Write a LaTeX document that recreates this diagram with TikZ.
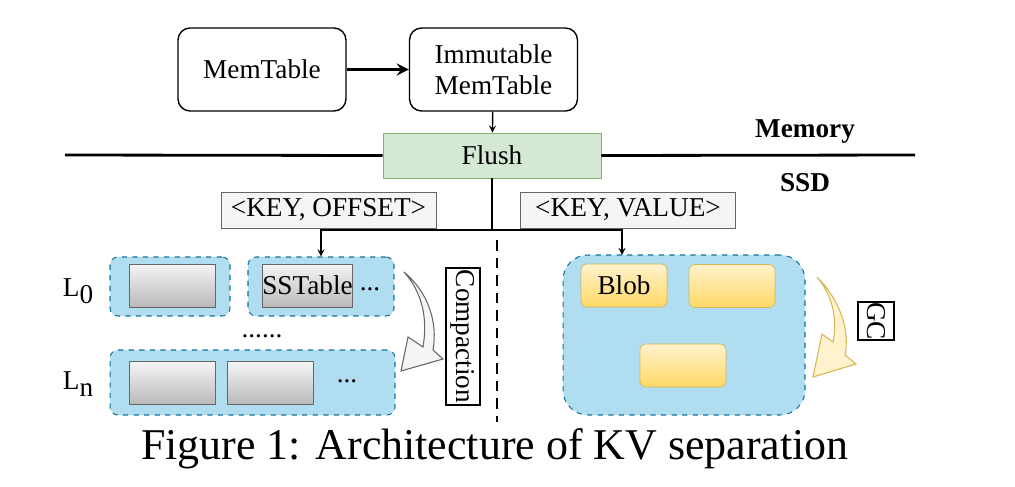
\documentclass[tikz,border=0pt]{standalone}
\usepackage{fontspec}
\setmainfont{Liberation Serif}
\definecolor{lvlfill}{HTML}{B1DDF0}
\definecolor{lvldraw}{HTML}{10739E}
\definecolor{flushfill}{HTML}{D5E8D4}
\definecolor{flushdraw}{HTML}{82B366}
\definecolor{tagfill}{HTML}{F5F5F5}
\definecolor{tagdraw}{HTML}{666666}
\definecolor{blobtop}{HTML}{FFF2CC}
\definecolor{blobbot}{HTML}{FFD966}
\definecolor{blobdraw}{HTML}{D6B656}
\begin{document}
\begin{tikzpicture}[
    x=0.02cm, y=-0.02cm,
    font=\fontsize{15.5}{18}\selectfont,
    memtab/.style={draw, line width=0.8pt, rounded corners=0.24cm, minimum width=3.36cm, minimum height=1.66cm, align=center},
    flushbox/.style={draw=flushdraw, fill=flushfill, minimum width=4.36cm, minimum height=0.9cm},
    tagbox/.style={draw=tagdraw, fill=tagfill, minimum width=4.3cm, minimum height=0.72cm, inner sep=0pt},
    level/.style={draw=lvldraw, fill=lvlfill, dashed, line width=0.6pt, rounded corners=0.16cm, minimum height=1.18cm},
    sst/.style={draw=tagdraw, top color=tagfill, bottom color=gray!55, minimum width=1.72cm, minimum height=0.86cm, inner sep=0pt},
    blob/.style={draw=blobdraw, top color=blobtop, bottom color=blobbot, rounded corners=0.12cm, minimum width=1.72cm, minimum height=0.86cm},
    vlabel/.style={draw, line width=0.8pt, rotate=-90, inner sep=0pt},
    link/.style={line width=0.8pt, -stealth}
]
\useasboundingbox (0,0) rectangle (1015,487);

% memory side
\node[memtab] (mem) at (262,69.5) {MemTable};
\node[memtab] (imm) at (493.5,69.5) {Immutable\\MemTable};
\node[flushbox] (flush) at (492,155.5) {Flush};

\draw[line width=2pt, -stealth] (mem) -- (imm);
\draw[link] (imm) -- (flush);

\draw[line width=1.6pt] (65,155) -- (flush.west);
\draw[line width=1.6pt] (flush.east) -- (915,155);
\node[font=\fontsize{15.5}{18}\selectfont\bfseries] (memlbl) at (805,132) {Memory};
\node[font=\fontsize{15.5}{18}\selectfont\bfseries] (ssdlbl) at (805,183) {SSD};

% split
\node[tagbox] (koff) at (328.5,210) {<KEY, OFFSET>};
\node[tagbox] (kval) at (628,210) {<KEY, VALUE>};

% LSM levels
\node[level, minimum width=2.4cm] (l0a) at (170,286.5) {};
\node[level, minimum width=2.92cm] (l0b) at (321,286.5) {};
\node[level, minimum width=5.7cm, minimum height=1.3cm] (ln) at (252.5,382.5) {};

\foreach \n/\p in {s1/{(172,285.5)}, s3/{(172,383)}, s4/{(270,383)}}{
  \node[sst] (\n) at \p {};
}
\node[sst] (s2) at (307.5,285.5) {SSTable};

\node (d1) at (370,289) {...};
\node (d2) at (347,381) {...};
\node (d3) at (262,336) {......};

\node (lab0) at (78,291) {L\raisebox{-4pt}{0}};
\node (labn) at (78,384) {L\raisebox{-4pt}{n}};

% blob files
\node[level, minimum width=4.84cm, minimum height=3.2cm, rounded corners=0.5cm] (blobs) at (684,335) {};
\node[blob] (b1) at (624,285.5) {Blob};
\node[blob] (b2) at (732,286) {};
\node[blob] (b3) at (683,365.5) {};

\coordinate (split) at (492,230);
\coordinate (vin) at (622,255);
\draw[line width=0.8pt] (flush.south) -- (split);
\draw[link] (split) -| (l0b.north);
\draw[link] (split) -| (vin);

\draw[line width=1.6pt, dash pattern=on 6pt off 4pt] (497,240) -- (497,422);

% compaction and gc
\draw[draw=tagdraw, fill=tagfill, line width=0.6pt] (404,272) .. controls (428,292) and (438,322) .. (433,350)
  -- (443,359) -- (401,371) -- (408,337) -- (423,347) .. controls (428,318) and (422,292) .. (404,272) -- cycle;
\node[vlabel, minimum width=2.74cm, minimum height=0.68cm] (comp) at (463,336.5) {Compaction};

\draw[draw=blobdraw, fill=blobtop, line width=0.6pt] (817,277) .. controls (840,300) and (850,330) .. (845,355)
  -- (856,364) -- (813,377) -- (822,334) -- (833,342) .. controls (838,318) and (832,295) .. (817,277) -- cycle;
\node[vlabel, minimum width=0.76cm, minimum height=0.72cm] (gc) at (876,321) {GC};

\node[font=\fontsize{25}{30}\selectfont] (cap) at (495,449) {Figure 1: Architecture of KV separation};

\end{tikzpicture}
\end{document}
